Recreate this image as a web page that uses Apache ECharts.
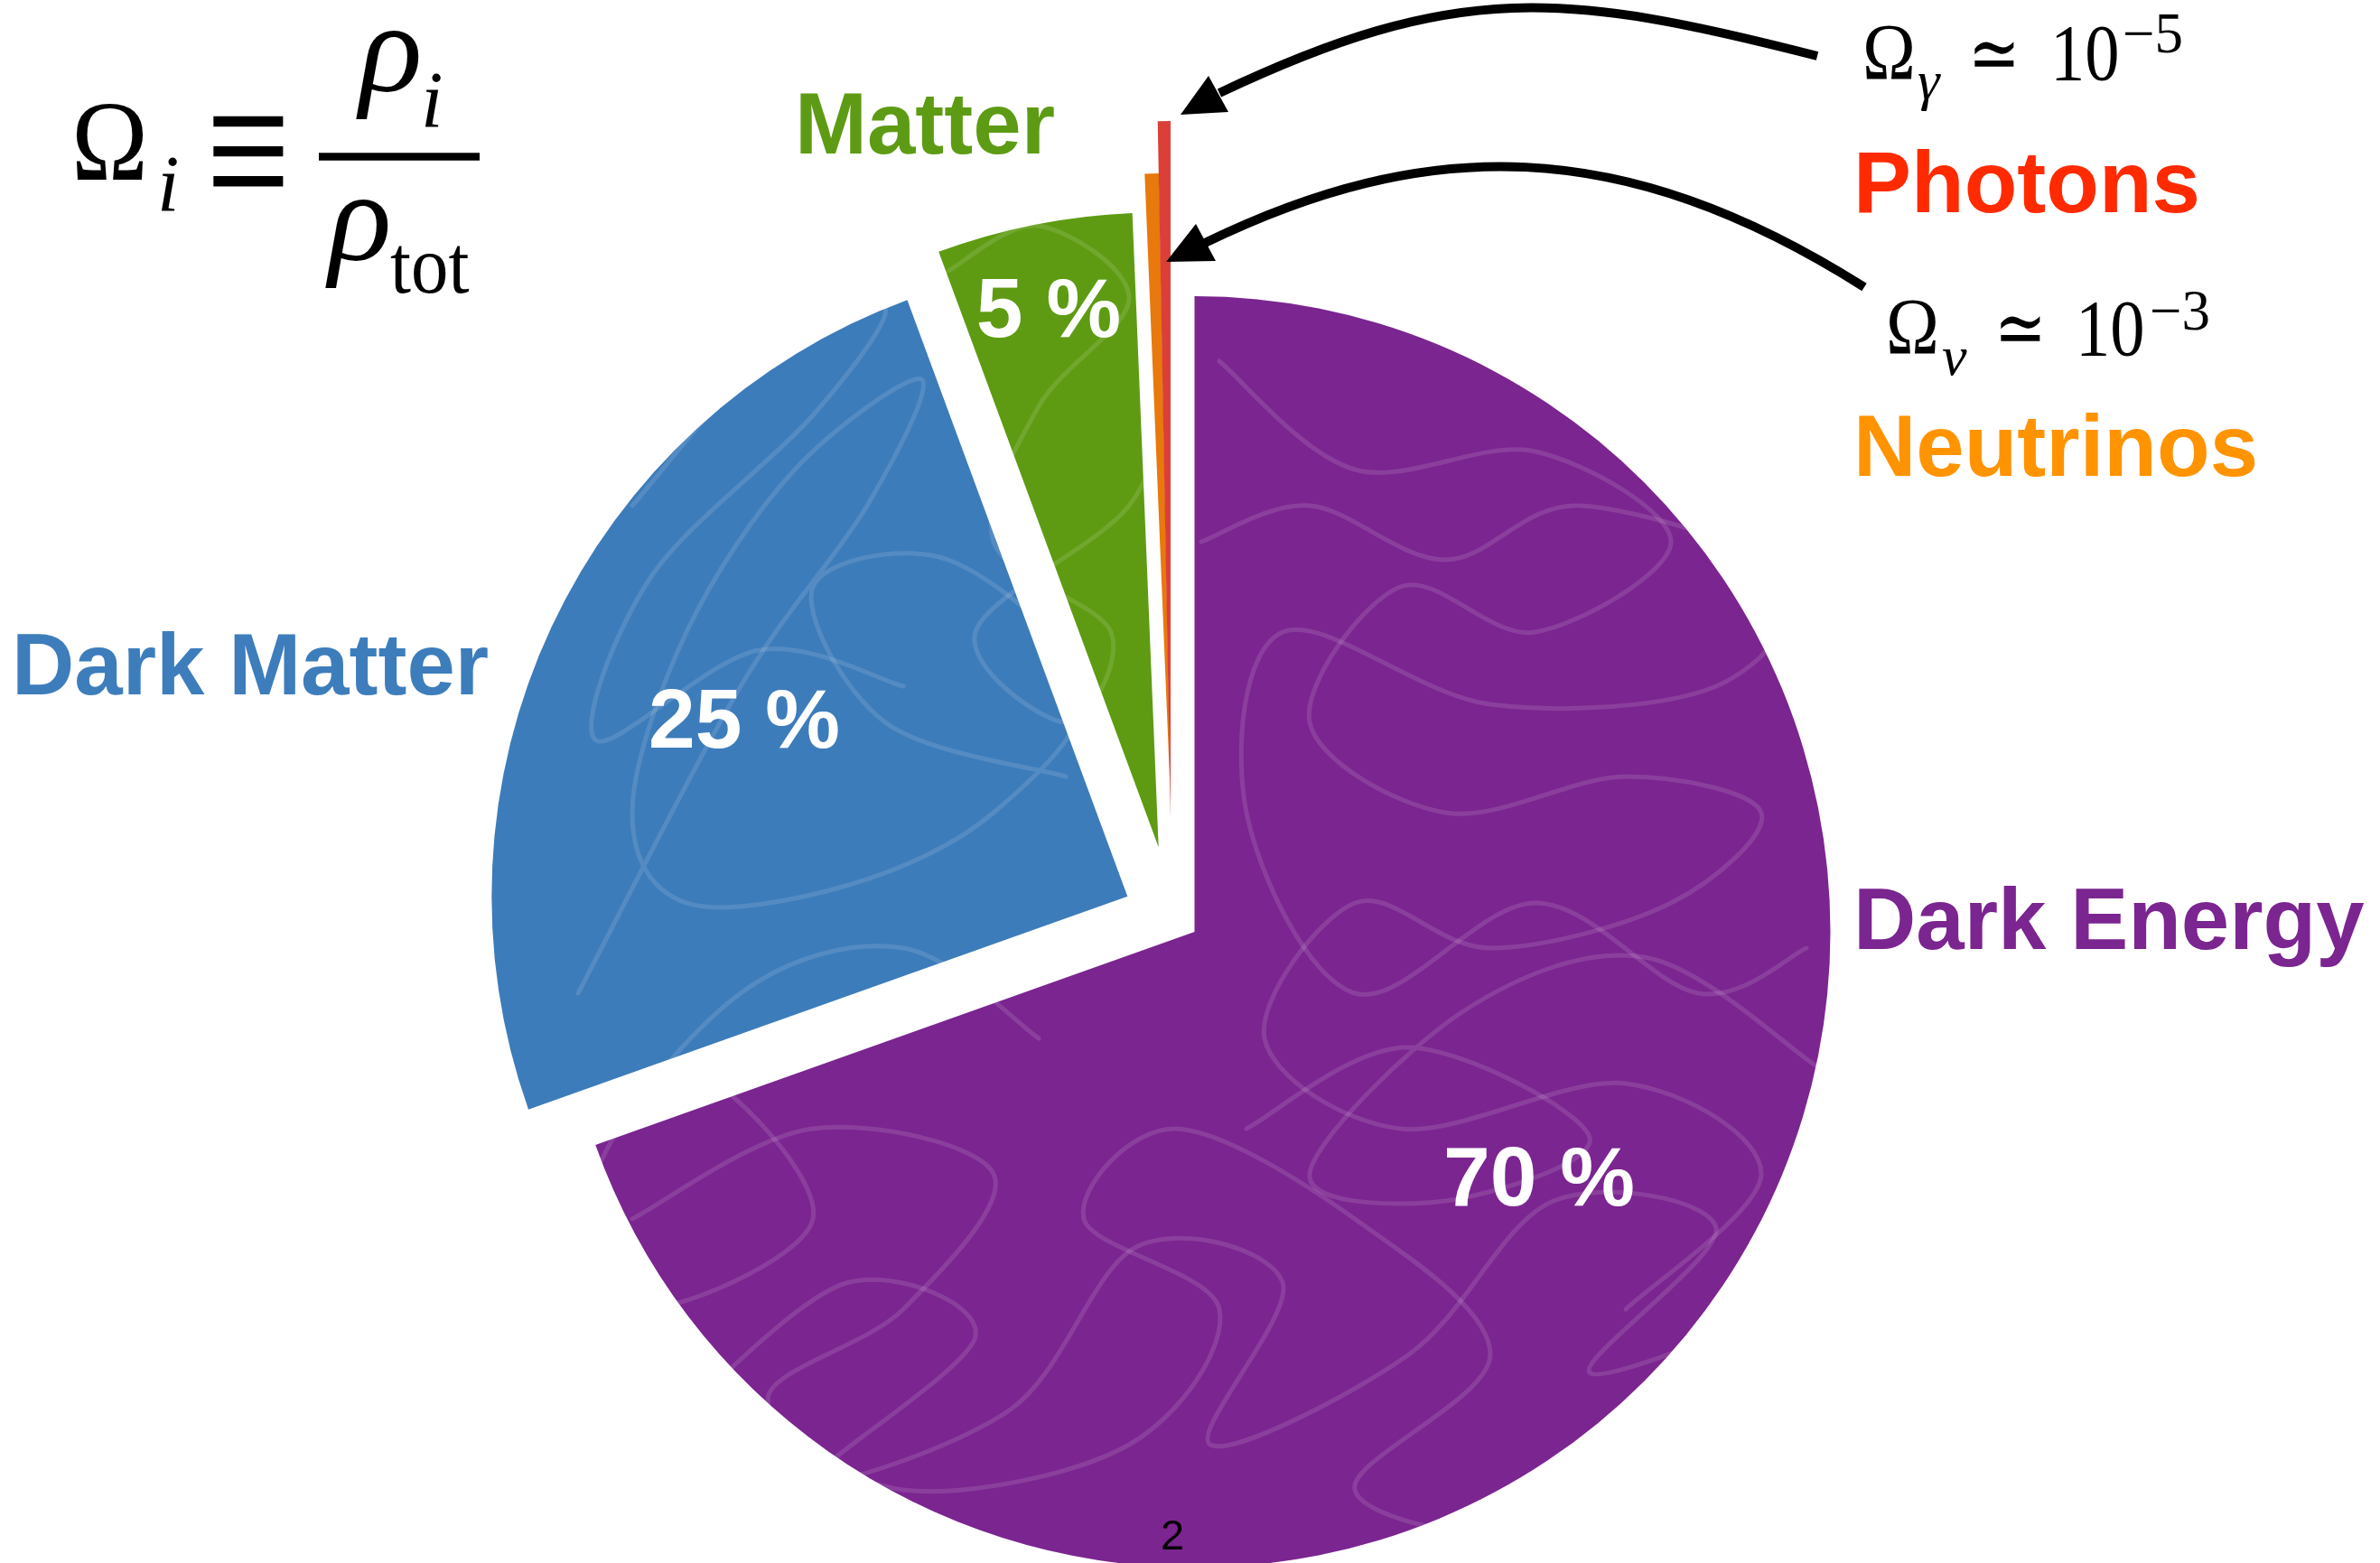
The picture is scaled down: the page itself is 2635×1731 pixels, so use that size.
<!DOCTYPE html>
<html>
<head>
<meta charset="utf-8">
<script src="https://cdn.jsdelivr.net/npm/echarts@6/dist/echarts.min.js"></script>
<style>
html,body{margin:0;padding:0;background:#ffffff;}
#chart{width:2635px;height:1731px;}
</style>
</head>
<body>
<div id="chart"></div>
<script>
// ---------------- data ----------------
const categories = ['Dark Energy', 'Dark Matter', 'Matter', 'Neutrinos', 'Photons'];
// share of the drawn wedges (percent of the full circle, as drawn in the figure)
const shares = [69.55, 24.81, 4.97, 0.364, 0.294];
// white percentage labels printed inside the wedges
const percentLabels = ['70 %', '25 %', '5 %'];
// annotation formulas
const photonFormula = ['\u03A9', '\u03B3', '\u2243', '10', '\u22125'];
const neutrinoFormula = ['\u03A9', '\u03BD', '\u2243', '10', '\u22123'];
const pageNumber = '2';

// ---------------- styles ----------------
const sliceColors = ['#7B2590', '#3D7CBA', '#5E9B12', '#E8790D', '#DA4038'];
const nameColors = ['#7B2590', '#3D7DBB', '#5E9B14', '#FF9300', '#FF2A00'];
const SANS = '"Liberation Sans", Arial, Helvetica, sans-serif';
const SERIF = '"Liberation Serif", "DejaVu Serif", "Times New Roman", serif';

// wedge geometry (exploded centres and radii, px)
const wedgeLayout = [
  { center: [1322.5, 1032], r: 704 },
  { center: [1248.3, 992.7], r: 704 },
  { center: [1282.7, 938.3], r: 703 },
  { center: [1296, 886], r: 694 },
  { center: [1296, 906], r: 772 }
];

// faint scribble texture inside the wedges
const scribbles = [
  [[640,1100],[820,760],[960,560],[1020,420],[880,520],[760,700],[700,900],[760,1000],[940,980],[1100,900],[1200,760],[1050,620],[900,650],[980,800],[1180,860]],
  [[1350,400],[1500,520],[1700,500],[1850,600],[1700,700],[1550,650],[1450,800],[1600,900],[1800,860],[1950,900],[1850,1000],[1650,1050],[1500,1000],[1400,1150],[1550,1250],[1800,1200],[1950,1300],[1800,1450]],
  [[700,1350],[900,1250],[1100,1300],[1000,1450],[850,1550],[1000,1650],[1250,1600],[1350,1450],[1200,1350],[1300,1250],[1500,1350],[1650,1500],[1500,1650],[1700,1700],[1850,1600]],
  [[1050,300],[1150,250],[1250,330],[1150,450],[1100,600],[1230,700],[1180,800],[1080,700],[1250,560],[1300,420]],
  [[1330,600],[1450,560],[1600,620],[1750,560],[1980,640],[1900,760],[1650,780],[1420,700],[1380,900],[1500,1100],[1700,1000],[1880,1100],[2000,1050]],
  [[620,1250],[760,1180],[900,1350],[700,1450],[660,1300],[820,1100],[1000,1050],[1150,1150]],
  [[760,1560],[940,1420],[1080,1480],[900,1640],[1120,1560],[1260,1380],[1420,1420],[1340,1600],[1560,1500],[1720,1330],[1900,1360],[1760,1520],[1980,1450]],
  [[1380,1250],[1560,1160],[1760,1260],[1600,1330],[1450,1300],[1620,1120],[1820,1060],[2010,1180]],
  [[700,560],[860,380],[980,340],[900,460],[720,640],[660,820],[840,720],[1000,760]]
];

function makePattern(base, textured) {
  const c = document.createElement('canvas');
  c.width = 2635; c.height = 1731;
  const g = c.getContext('2d');
  g.fillStyle = base;
  g.fillRect(0, 0, c.width, c.height);
  if (textured) {
    g.strokeStyle = 'rgba(255,255,255,0.12)';
    g.lineWidth = 5;
    g.lineJoin = 'round';
    g.lineCap = 'round';
    scribbles.forEach(function (p) {
      g.beginPath();
      g.moveTo(p[0][0], p[0][1]);
      for (let i = 0; i < p.length - 1; i++) {
        const p0 = p[Math.max(i - 1, 0)], p1 = p[i], p2 = p[i + 1], p3 = p[Math.min(i + 2, p.length - 1)];
        g.bezierCurveTo(
          p1[0] + (p2[0] - p0[0]) / 6, p1[1] + (p2[1] - p0[1]) / 6,
          p2[0] - (p3[0] - p1[0]) / 6, p2[1] - (p3[1] - p1[1]) / 6,
          p2[0], p2[1]);
      }
      g.stroke();
    });
  }
  return { image: c, repeat: 'repeat' };
}

const fills = sliceColors.map(function (col, i) { return makePattern(col, i < 3); });

const series = wedgeLayout.map(function (L, k) {
  return {
    type: 'pie',
    center: L.center,
    radius: [0, L.r],
    startAngle: 90,
    clockwise: true,
    minAngle: 0,
    silent: true,
    animation: false,
    avoidLabelOverlap: false,
    label: { show: false },
    labelLine: { show: false },
    emphasis: { disabled: true },
    itemStyle: { borderWidth: 0 },
    data: categories.map(function (c, i) {
      return {
        name: c,
        value: shares[i],
        itemStyle: { color: i === k ? fills[k] : 'rgba(0,0,0,0)', borderWidth: 0 }
      };
    })
  };
});

// ---------------- text helpers ----------------
function txt(s, x, y, size, color, o) {
  o = o || {};
  return {
    type: 'text', x: x, y: y, scaleX: o.sx || 1, z: 100,
    style: {
      text: s, fill: color,
      fontSize: size, fontFamily: o.fam || SANS,
      fontWeight: o.w || 'normal', fontStyle: o.it ? 'italic' : 'normal',
      textAlign: o.align || 'left', textVerticalAlign: 'middle'
    }
  };
}

const graphics = [];
// category names
graphics.push(txt(categories[2], 880, 144, 96, nameColors[2], { w: 'bold' }));
graphics.push(txt(categories[1], 13, 743, 96, nameColors[1], { w: 'bold' }));
graphics.push(txt(categories[0], 2052, 1025, 96, nameColors[0], { w: 'bold' }));
graphics.push(txt(categories[4], 2052, 209, 96, nameColors[4], { w: 'bold' }));
graphics.push(txt(categories[3], 2052, 501, 96, nameColors[3], { w: 'bold' }));
// percentages
graphics.push(txt(percentLabels[2], 1161, 347, 93, '#ffffff', { w: 'bold', align: 'center' }));
graphics.push(txt(percentLabels[1], 824, 802, 93, '#ffffff', { w: 'bold', align: 'center' }));
graphics.push(txt(percentLabels[0], 1704, 1309, 93, '#ffffff', { w: 'bold', align: 'center' }));

// main definition  Omega_i = rho_i / rho_tot
graphics.push(txt('\u03A9', 79, 166, 127, '#000', { fam: SERIF, sx: 0.9 }));
graphics.push(txt('i', 174, 210, 88, '#000', { fam: SERIF, it: true }));
graphics.push(txt('\u2261', 275, 184, 230, '#000', { fam: SERIF, align: 'center', sx: 0.72 }));
graphics.push({ type: 'rect', z: 100, shape: { x: 353, y: 169.3, width: 178, height: 8.4 }, style: { fill: '#000' } });
graphics.push(txt('\u03C1', 398, 63, 145, '#000', { fam: SERIF, it: true }));
graphics.push(txt('i', 466, 117, 88, '#000', { fam: SERIF, it: true }));
graphics.push(txt('\u03C1', 364, 250, 145, '#000', { fam: SERIF, it: true }));
graphics.push(txt('tot', 432, 300, 90, '#000', { fam: SERIF, sx: 0.92 }));

// photon formula
graphics.push(txt(photonFormula[0], 2062, 64, 88, '#000', { fam: SERIF, sx: 0.9 }));
graphics.push(txt(photonFormula[1], 2123, 94, 62, '#000', { fam: SERIF, it: true }));
graphics.push(txt(photonFormula[2], 2208, 66, 88, '#000', { fam: SERIF, align: 'center', sx: 0.78 }));
graphics.push(txt(photonFormula[3], 2270, 65, 89, '#000', { fam: SERIF, sx: 0.86 }));
graphics.push(txt(photonFormula[4], 2350, 41, 63, '#000', { fam: SERIF }));
// neutrino formula
graphics.push(txt(neutrinoFormula[0], 2088, 368, 88, '#000', { fam: SERIF, sx: 0.9 }));
graphics.push(txt(neutrinoFormula[1], 2150, 399, 62, '#000', { fam: SERIF, it: true }));
graphics.push(txt(neutrinoFormula[2], 2237, 370, 88, '#000', { fam: SERIF, align: 'center', sx: 0.78 }));
graphics.push(txt(neutrinoFormula[3], 2298, 370, 89, '#000', { fam: SERIF, sx: 0.86 }));
graphics.push(txt(neutrinoFormula[4], 2380, 348, 63, '#000', { fam: SERIF }));

// arrows
graphics.push({ type: 'bezierCurve', z: 90, shape: { x1: 2012, y1: 62, cpx1: 1731, cpy1: -10, cpx2: 1612, cpy2: -21, x2: 1350, y2: 103 }, style: { stroke: '#000', lineWidth: 10, fill: null, lineCap: 'butt' } });
graphics.push({ type: 'polygon', z: 90, shape: { points: [[1307, 127], [1338, 84], [1360, 124]] }, style: { fill: '#000' } });
graphics.push({ type: 'bezierCurve', z: 90, shape: { x1: 2064, y1: 318, cpx1: 1794, cpy1: 147, cpx2: 1577, cpy2: 151, x2: 1334, y2: 269 }, style: { stroke: '#000', lineWidth: 10, fill: null, lineCap: 'butt' } });
graphics.push({ type: 'polygon', z: 90, shape: { points: [[1291, 290], [1324, 248], [1346, 289]] }, style: { fill: '#000' } });

// page number
graphics.push(txt(pageNumber, 1298, 1703, 47, '#000', { align: 'center' }));

const chart = echarts.init(document.getElementById('chart'), null, { renderer: 'canvas' });
chart.setOption({
  backgroundColor: '#ffffff',
  animation: false,
  series: series,
  graphic: { elements: graphics }
});
</script>
</body>
</html>
